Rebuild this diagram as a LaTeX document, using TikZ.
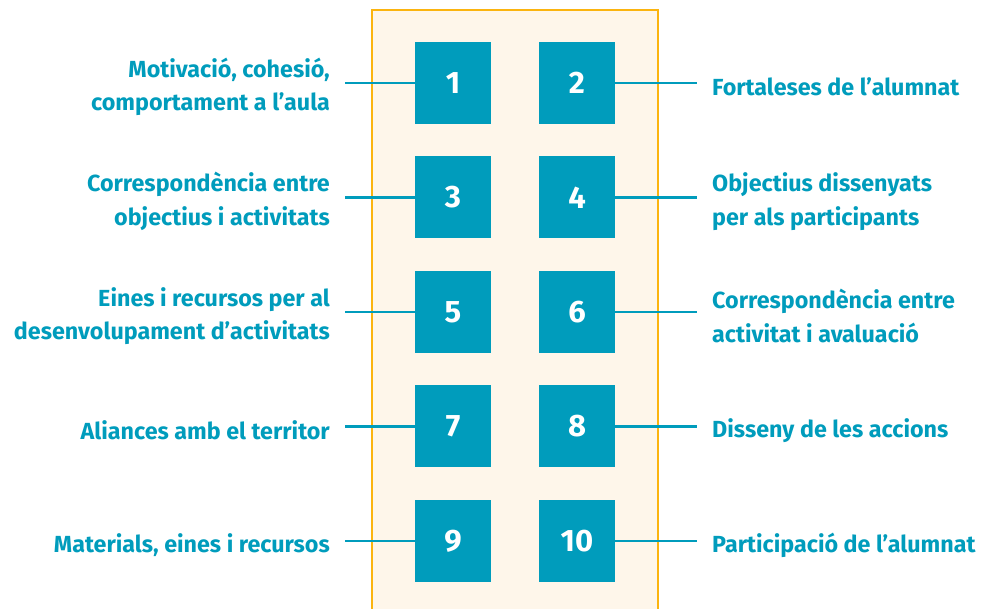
\documentclass[tikz,border=0pt]{standalone}
\usepackage{fontspec}
\setmainfont{Fira Sans}
\usetikzlibrary{positioning}

\definecolor{blau}{HTML}{009CBC}
\definecolor{groc}{HTML}{FBB40F}
\definecolor{crema}{HTML}{FEF6EA}

\begin{document}
\begin{tikzpicture}[x=1pt,y=1pt,
    caixa/.style={fill=blau,minimum width=76pt,minimum height=82pt,inner sep=0pt,
      text=white,font=\bfseries\fontsize{31}{34}\selectfont},
    etiq/.style={text=blau,inner sep=0pt,yshift=-4pt,font=\bfseries\fontsize{23.3}{33.5}\selectfont},
    linia/.style={draw=blau,line width=2.2pt}]
   \useasboundingbox (0,0) rectangle (982,609);
   % panell central
   \fill[crema] (372,0) rectangle (658,599);
   \draw[groc,line width=2.8pt] (372,-2) -- (372,599) -- (658,599) -- (658,-2);
   % caselles
   \node[caixa] (q_1) at (453,526) {1};
   \node[caixa] (q_2) at (577,526) {2};
   \node[caixa] (q_3) at (453,411.5) {3};
   \node[caixa] (q_4) at (577,411.5) {4};
   \node[caixa] (q_5) at (453,297) {5};
   \node[caixa] (q_6) at (577,297) {6};
   \node[caixa] (q_7) at (453,182.5) {7};
   \node[caixa] (q_8) at (577,182.5) {8};
   \node[caixa] (q_9) at (453,68) {9};
   \node[caixa] (q_10) at (577,68) {10};
   % extrems de les linies
   \coordinate (e_1) at (345,526);  \coordinate (d_2) at (697,526);
   \coordinate (e_3) at (345,411.5);\coordinate (d_4) at (697,411.5);
   \coordinate (e_5) at (345,297);  \coordinate (d_6) at (697,297);
   \coordinate (e_7) at (345,182.5);\coordinate (d_8) at (697,182.5);
   \coordinate (e_9) at (345,68);   \coordinate (d_10) at (697,68);
   % textos
   \node[etiq,align=right] (t_1) [left=15pt of e_1] {Motivació, cohesió,\\comportament a l’aula};
   \node[etiq,align=left] (t_2) [right=15pt of d_2] {Fortaleses de l’alumnat};
   \node[etiq,align=right] (t_3) [left=15pt of e_3] {Correspondència entre\\objectius i activitats};
   \node[etiq,align=left] (t_4) [right=15pt of d_4] {Objectius dissenyats\\per als participants};
   \node[etiq,align=right] (t_5) [left=15pt of e_5] {Eines i recursos per al\\desenvolupament d’activitats};
   \node[etiq,align=left] (t_6) [right=15pt of d_6] {Correspondència entre\\activitat i avaluació};
   \node[etiq,align=right] (t_7) [left=15pt of e_7] {Aliances amb el territor};
   \node[etiq,align=left] (t_8) [right=15pt of d_8] {Disseny de les accions};
   \node[etiq,align=right] (t_9) [left=15pt of e_9] {Materials, eines i recursos};
   \node[etiq,align=left] (t_10) [right=15pt of d_10] {Participació de l’alumnat};
   % connectors
   \path[linia]
    (e_1) edge (q_1)  (q_2) edge (d_2)
    (e_3) edge (q_3)  (q_4) edge (d_4)
    (e_5) edge (q_5)  (q_6) edge (d_6)
    (e_7) edge (q_7)  (q_8) edge (d_8)
    (e_9) edge (q_9)  (q_10) edge (d_10);
\end{tikzpicture}
\end{document}
